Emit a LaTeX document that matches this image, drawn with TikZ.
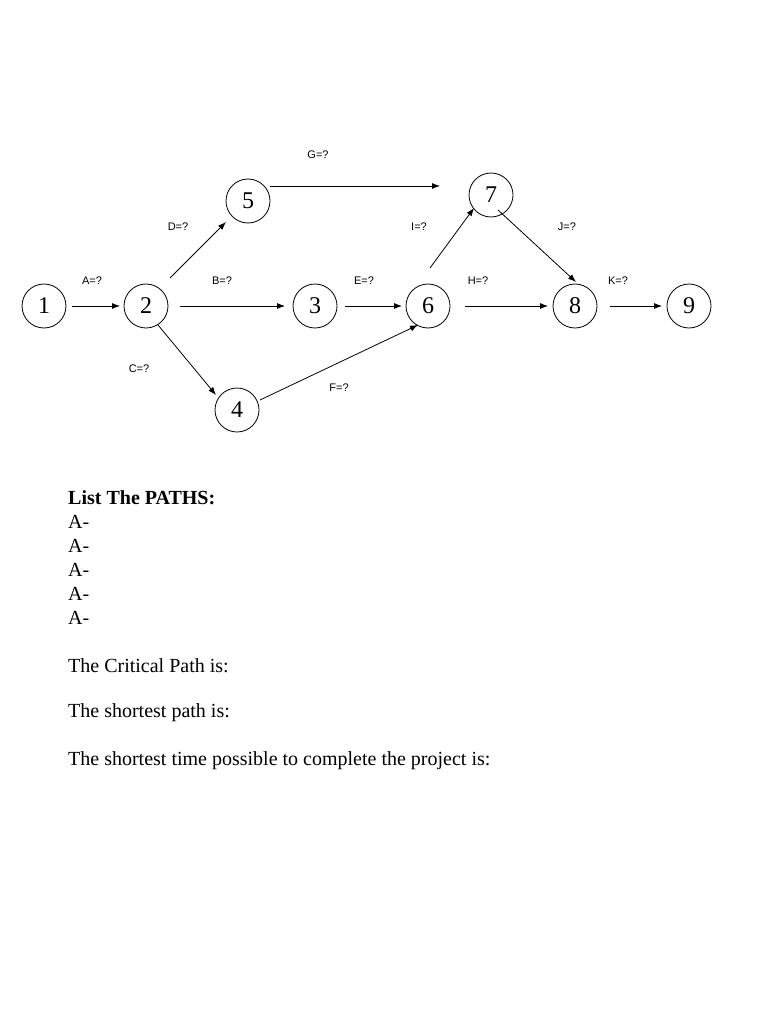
\documentclass[tikz,border=0pt]{standalone}
\usepackage{fontspec}
\usetikzlibrary{arrows.meta}
\setmainfont{Liberation Serif}
\setsansfont{Liberation Sans}
\begin{document}
\begin{tikzpicture}[x=1pt,y=-1pt,
  ev/.style={circle,draw,line width=0.8pt,minimum size=44pt,inner sep=0pt,font=\fontsize{24}{24}\selectfont},
  act/.style={-{Latex[length=8pt,width=6pt]},line width=0.8pt},
  lab/.style={font=\sffamily\fontsize{11}{11}\selectfont},
  txt/.style={anchor=west,inner sep=0pt,font=\fontsize{20}{20}\selectfont}]
\useasboundingbox (0,0) rectangle (768,1024);
\node[ev] (n1) at (44,306) {1};
\node[ev] (n2) at (146,306) {2};
\node[ev] (n3) at (315,306) {3};
\node[ev] (n4) at (237,410) {4};
\node[ev] (n5) at (248,201) {5};
\node[ev] (n6) at (428,306) {6};
\node[ev] (n7) at (491,195) {7};
\node[ev] (n8) at (575,306) {8};
\node[ev] (n9) at (689,306) {9};
\coordinate (a1s) at (72,306); \coordinate (a1e) at (120,306);
\coordinate (b1s) at (180,306); \coordinate (b1e) at (285,306);
\coordinate (e1s) at (345,306); \coordinate (e1e) at (402,306);
\coordinate (d1s) at (170,278); \coordinate (d1e) at (226,222);
\coordinate (c1s) at (158,325); \coordinate (c1e) at (216,395);
\coordinate (f1s) at (260,400); \coordinate (f1e) at (418,325);
\coordinate (g1s) at (270,186); \coordinate (g1e) at (440,186);
\coordinate (i1s) at (430,268); \coordinate (i1e) at (474,208);
\coordinate (j1s) at (498,210); \coordinate (j1e) at (576,282);
\coordinate (h1s) at (465,306); \coordinate (h1e) at (548,306);
\coordinate (k1s) at (610,306); \coordinate (k1e) at (662,306);
\foreach \p in {a1,b1,e1,d1,c1,f1,g1,i1,j1,h1,k1} \draw[act] (\p s) -- (\p e);
\node[lab] (la) at (92,281) {A=?};
\node[lab] (lb) at (222,281) {B=?};
\node[lab] (lc) at (139,369) {C=?};
\node[lab] (ld) at (178,227) {D=?};
\node[lab] (le) at (364,281) {E=?};
\node[lab] (lf) at (339,388) {F=?};
\node[lab] (lg) at (318,155) {G=?};
\node[lab] (lh) at (478,281) {H=?};
\node[lab] (li) at (419,227) {I=?};
\node[lab] (lj) at (567,227) {J=?};
\node[lab] (lk) at (618,281) {K=?};
\node[txt] (t0) at (68,498) {\bfseries List The PATHS:};
\foreach \y [count=\i] in {522,546,570,594,618} \node[txt] (p\i) at (68,\y) {A-};
\node[txt] (t1) at (68,666) {The Critical Path is:};
\node[txt] (t2) at (68,713) {The shortest path is:};
\node[txt] (t3) at (68,761) {The shortest time possible to complete the project is:};
\end{tikzpicture}
\end{document}
